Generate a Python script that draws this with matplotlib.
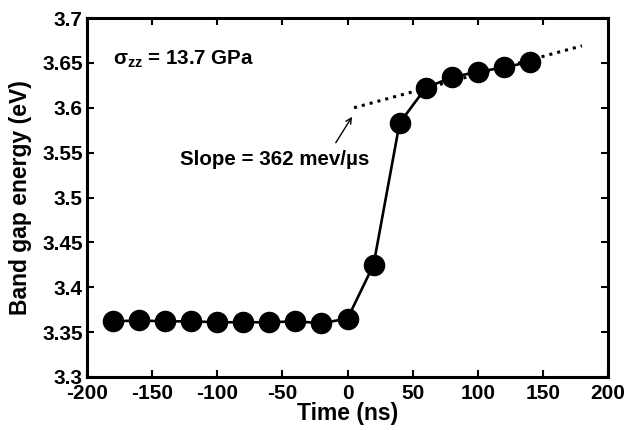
"""
Band gap energy versus time under shock compression.
"""
import numpy as np
import matplotlib
matplotlib.use('Agg')
import matplotlib.pyplot as plt
from matplotlib.ticker import FormatStrFormatter

plt.rcParams['font.family'] = ['Liberation Sans', 'DejaVu Sans']
plt.rcParams['font.weight'] = 'bold'
plt.rcParams['axes.unicode_minus'] = False
plt.rcParams['mathtext.fontset'] = 'custom'
plt.rcParams['mathtext.rm'] = 'Liberation Sans:bold'
plt.rcParams['mathtext.it'] = 'Liberation Sans:bold'
plt.rcParams['mathtext.bf'] = 'Liberation Sans:bold'

# measured data
time_ns = [-180, -160, -140, -120, -100, -80, -60, -40, -20, 0,
           20, 40, 60, 80, 100, 120, 140]
gap_ev = [3.362, 3.363, 3.362, 3.362, 3.361, 3.361, 3.361, 3.362, 3.360,
          3.365, 3.425, 3.583, 3.622, 3.634, 3.640, 3.645, 3.651]

# linear fit after the jump
fit_t = [5, 180]
fit_e = [3.600, 3.669]

xticks = [-200, -150, -100, -50, 0, 50, 100, 150, 200]
yticks = [3.3, 3.35, 3.4, 3.45, 3.5, 3.55, 3.6, 3.65, 3.7]

fig = plt.figure(figsize=(6.26, 4.30), dpi=100)
ax = fig.add_axes([87/626, 1-377/430, 521/626, 359/430])

ax.plot(time_ns, gap_ev, '-o', color='k', lw=1.9, markersize=14.5)
ax.plot(fit_t, fit_e, ':', color='k', lw=2.2)

ax.set_xlim(-200, 200)
ax.set_ylim(3.3, 3.7)
ax.set_xticks(xticks)
ax.set_yticks(yticks)
ax.yaxis.set_major_formatter(FormatStrFormatter('%g'))
ax.tick_params(direction='in', top=True, right=True, length=5, width=1.5,
               labelsize=15, pad=5)
ax.tick_params(axis='y', pad=3)
for lab in ax.get_xticklabels() + ax.get_yticklabels():
    lab.set_fontweight('bold')
for sp in ax.spines.values():
    sp.set_linewidth(2.2)

ax.set_xlabel('Time (ns)', fontsize=16.5, fontweight='bold', labelpad=-1)
ax.set_ylabel('Band gap energy (eV)', fontsize=16.5, fontweight='bold',
              labelpad=7)

ax.text(-180, 3.654, r'$\sigma_{zz}$ = 13.7 GPa', fontsize=14.8,
        fontweight='bold', va='center', ha='left')
ax.text(-128.5, 3.542, 'Slope = 362 mev/\u00b5s', fontsize=14.8,
        fontweight='bold', va='center', ha='left')
ax.annotate('', xy=(3.5, 3.590), xytext=(-9, 3.561),
            arrowprops=dict(arrowstyle='->', color='k', lw=1.0,
                            shrinkA=0, shrinkB=0))

fig.savefig('out.png', dpi=100)
